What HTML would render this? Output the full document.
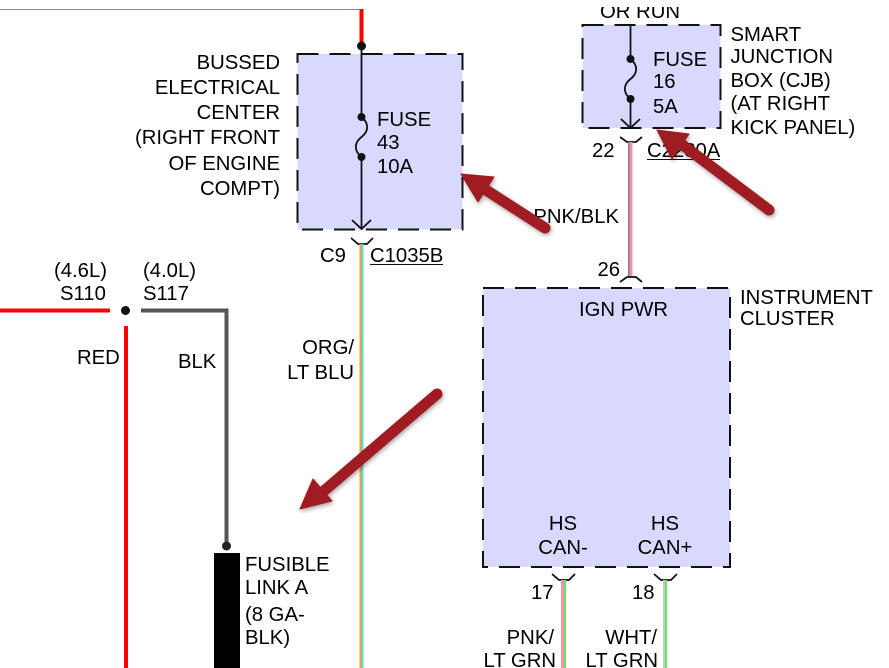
<!DOCTYPE html>
<html><head><meta charset="utf-8"><style>
html,body{margin:0;padding:0;background:#fff;width:889px;height:668px;overflow:hidden}
svg{display:block}
text{font-family:"Liberation Sans",Arial,sans-serif;font-size:20.3px;fill:#000}
.e{text-anchor:end}.m{text-anchor:middle}
</style></head><body>
<svg width="889" height="668" viewBox="0 0 889 668" xmlns="http://www.w3.org/2000/svg">
<defs><filter id="s" x="-20%" y="-20%" width="140%" height="140%"><feDropShadow dx="1" dy="2" stdDeviation="2" flood-color="#000" flood-opacity=".35"/></filter></defs>
<rect x="297.500" y="54" width="165" height="175.500" fill="#d9d9ff"/>
<rect x="582.500" y="25" width="138" height="103" fill="#d9d9ff"/>
<rect x="483" y="288" width="247" height="279" fill="#d9d9ff"/>
<g fill="none" stroke="#111" stroke-width="2" stroke-dasharray="21 11">
<rect x="297.500" y="54" width="165" height="175.500"/>
<rect x="582.500" y="25" width="138" height="103"/>
<rect x="483" y="288" width="247" height="279"/>
</g>
<!-- top wires -->
<path d="M0 9.500H360" stroke="#f55" stroke-width="1"/>
<path d="M361.500 9V46" stroke="#f00" stroke-width="4"/>
<circle cx="361.500" cy="46" r="4.500" fill="#111"/>
<!-- fuse 43 -->
<path d="M361.500 46V117M361.500 157V229M352 220L361.500 229L371 220" fill="none" stroke="#111" stroke-width="1.800"/>
<path d="M361.500 117C370 124 368 132 361.500 137C355 142 353 150 361.500 157" fill="none" stroke="#111" stroke-width="1.800"/>
<circle cx="361.500" cy="117" r="4" fill="#111"/><circle cx="361.500" cy="157" r="4" fill="#111"/>
<text x="377" y="126">FUSE</text><text x="377" y="149">43</text><text x="377" y="173">10A</text>
<path d="M351 238L358 244H367L373 238" fill="none" stroke="#111" stroke-width="1.800"/>
<path d="M360.500 244V668" stroke="#ff9a30" stroke-width="2"/>
<path d="M362.500 244V668" stroke="#4fdede" stroke-width="2"/>
<text x="320" y="262">C9</text>
<text x="370" y="262">C1035B</text><path d="M370 264.500H443" stroke="#111" stroke-width="1"/>
<g>
<text class="e" x="280" y="69">BUSSED</text><text class="e" x="280" y="94">ELECTRICAL</text><text class="e" x="280" y="119">CENTER</text><text class="e" x="280" y="144">(RIGHT FRONT</text><text class="e" x="280" y="170">OF ENGINE</text><text class="e" x="280" y="195">COMPT)</text>
</g>
<!-- fuse 16 -->
<text x="600" y="18">OR RUN</text>
<rect x="590" y="0" width="120" height="7" fill="#fff"/>
<path d="M630.500 25V59M630.500 99V128M621 119L630.500 128L640 119" fill="none" stroke="#111" stroke-width="1.800"/>
<path d="M630.500 59C639 66 637 74 630.500 79C624 84 622 92 630.500 99" fill="none" stroke="#111" stroke-width="1.800"/>
<circle cx="630.500" cy="59" r="4" fill="#111"/><circle cx="630.500" cy="99" r="4" fill="#111"/>
<text x="653" y="66">FUSE</text><text x="653" y="88">16</text><text x="653" y="113">5A</text>
<text x="730.500" y="41">SMART</text><text x="730.500" y="63">JUNCTION</text><text x="730.500" y="87">BOX (CJB)</text><text x="730.500" y="110">(AT RIGHT</text><text x="730.500" y="134">KICK PANEL)</text>
<path d="M620 137L627 142H636L642 137" fill="none" stroke="#111" stroke-width="1.800"/>
<text x="592" y="157">22</text>
<text x="647" y="157">C2280A</text><path d="M647 159.500H720" stroke="#111" stroke-width="1"/>
<path d="M629 142V277" stroke="#8a7a80" stroke-width="2"/>
<path d="M631 142V277" stroke="#f58fa8" stroke-width="3"/>
<text class="e" x="619" y="223">PNK/BLK</text>
<text class="e" x="620" y="276">26</text>
<path d="M620 282L627 277H636L642 282" fill="none" stroke="#111" stroke-width="1.800"/>
<!-- cluster -->
<text x="579" y="316">IGN PWR</text>
<text x="740" y="304">INSTRUMENT</text><text x="740" y="325">CLUSTER</text>
<text class="m" x="563" y="530">HS</text><text class="m" x="563" y="554">CAN-</text>
<text class="m" x="665" y="530">HS</text><text class="m" x="665" y="554">CAN+</text>
<path d="M552 574L559 580H569L575 574M654 574L661 580H671L677 574" fill="none" stroke="#111" stroke-width="1.800"/>
<path d="M562.500 580V668" stroke="#f58fa8" stroke-width="3"/>
<path d="M565 580V668" stroke="#5ee85e" stroke-width="2"/>
<path d="M664 580V668" stroke="#c8c8c8" stroke-width="2"/>
<path d="M666 580V668" stroke="#5ee85e" stroke-width="2"/>
<text x="531" y="599">17</text><text x="632" y="599">18</text>
<text class="e" x="554" y="644">PNK/</text><text class="e" x="556" y="667">LT GRN</text>
<text class="e" x="657" y="644">WHT/</text><text class="e" x="658" y="667">LT GRN</text>
<!-- left -->
<text x="54" y="277">(4.6L)</text><text x="60" y="300">S110</text>
<text x="143" y="277">(4.0L)</text><text x="143" y="300">S117</text>
<path d="M0 310.500H110" stroke="#f00" stroke-width="4"/>
<circle cx="125.500" cy="310.500" r="4.500" fill="#111"/>
<path d="M126 326V668" stroke="#f00" stroke-width="4"/>
<path d="M141 310.500H226.500V546" fill="none" stroke="#555" stroke-width="4"/>
<circle cx="226.500" cy="546" r="4.500" fill="#222"/>
<rect x="214" y="553" width="26" height="115" fill="#000"/>
<text x="77" y="364">RED</text><text x="178" y="368">BLK</text>
<text class="e" x="354" y="354">ORG/</text><text class="e" x="354" y="379">LT BLU</text>
<text x="245" y="571">FUSIBLE</text><text x="245" y="594">LINK A</text><text x="245" y="621">(8 GA-</text><text x="245" y="644">BLK)</text>
<!-- arrows -->
<g fill="#9e1b20" stroke="#9e1b20" stroke-linejoin="round" filter="url(#s)">
<path d="M545 228L486 190" stroke-width="11" stroke-linecap="round" fill="none"/>
<path d="M461 174L494 177L478 202Z" stroke-width="1"/>
<path d="M769 210L680 143" stroke-width="11" stroke-linecap="round" fill="none"/>
<path d="M657 130L689 134L672 159Z" stroke-width="1"/>
<path d="M437 394L325 490" stroke-width="11" stroke-linecap="round" fill="none"/>
<path d="M300 509L313 479L332 501Z" stroke-width="1"/>
</g>
</svg>
</body></html>
